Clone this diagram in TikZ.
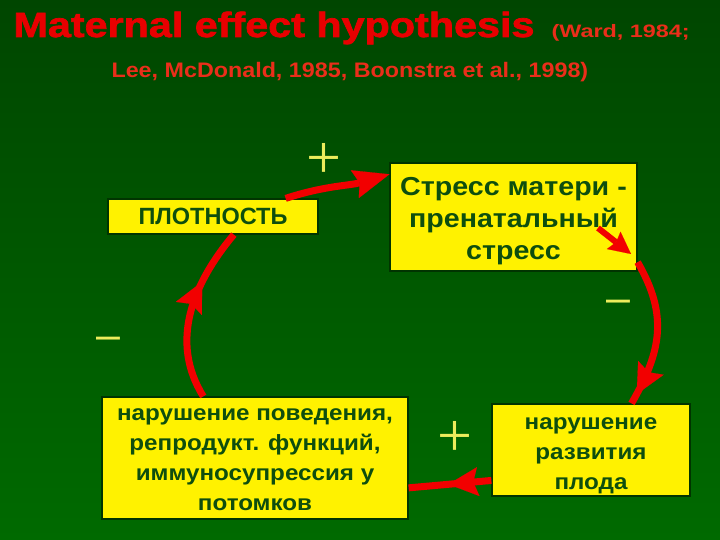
\documentclass[tikz,border=0pt]{standalone}
\usepackage{fontspec}
\setmainfont{Liberation Sans}
\newfontfamily\signfont{Liberation Serif}
\newfontfamily\widesans[FakeStretch=1.1]{Liberation Sans}
\newfontfamily\titlesans[FakeStretch=1.18,FakeBold=2]{Liberation Sans Bold}
\usetikzlibrary{arrows.meta,decorations.markings,calc}
\definecolor{bgtop}{RGB}{0,70,0}
\definecolor{bgbot}{RGB}{0,106,0}
\definecolor{titlered}{RGB}{232,0,0}
\definecolor{citered}{RGB}{234,46,26}
\definecolor{boxtext}{RGB}{14,78,14}
\definecolor{boxedge}{RGB}{0,52,0}
\definecolor{signyellow}{RGB}{236,236,92}
\definecolor{arrowred}{RGB}{242,0,0}
\tikzset{
  box/.style={fill=yellow, draw=boxedge, line width=1.2bp, inner sep=0pt, align=center, text=boxtext},
  sign/.style={text=signyellow, inner sep=0pt},
  link/.style={draw, color=arrowred, line width=7bp},
  headend/.style={-{Stealth[length=36bp,width=29bp,inset=5bp,line width=0.1bp]}},
  headmid/.style={postaction={decorate}, decoration={markings,
    mark=at position #1 with {\arrow{Stealth[length=30bp,width=29bp,inset=5bp,line width=0.1bp]}}}}
}

\begin{document}
\begin{tikzpicture}[x=1bp,y=1bp]
		%%%%% START %%%%%
		\useasboundingbox (0,0) rectangle (720,-540);
		\shade[top color=bgtop, bottom color=bgbot] (0,0) rectangle (720,-540);
		
		% title lines
		\node[anchor=base west, text=titlered, font=\titlesans\fontsize{35bp}{40bp}\selectfont] (title) at (10,-37) {Maternal effect hypothesis};
		\node[anchor=base west, text=citered, font=\bfseries\fontsize{18bp}{22bp}\selectfont] (citea) at (548,-38) {\scalebox{1.3}[1]{(Ward, 1984;}};
		\node[anchor=base west, text=citered, font=\bfseries\fontsize{21bp}{25bp}\selectfont] (citeb) at (108,-78) {\scalebox{1.11}[1]{Lee, McDonald, 1985, Boonstra et al., 1998)}};
		
		% boxes
		\node[box, minimum width=210bp, minimum height=35bp, font=\bfseries\fontsize{23.5bp}{28bp}\selectfont] (dens) at (213,-216.5) {ПЛОТНОСТЬ};
		\node[box, minimum width=247bp, minimum height=108bp, font=\widesans\bfseries\fontsize{26bp}{32bp}\selectfont] (stress) at (513.5,-217) {\rule{0pt}{26bp}Стресс матери -\\пренатальный\\стресс};
		\node[box, minimum width=198bp, minimum height=92bp, font=\widesans\bfseries\fontsize{22bp}{30bp}\selectfont] (fetus) at (591,-450) {\rule{0pt}{24bp}нарушение\\развития\\плода};
		\node[box, minimum width=306bp, minimum height=122bp, font=\widesans\bfseries\fontsize{22bp}{30bp}\selectfont] (behav) at (255,-458) {\rule{0pt}{15bp}нарушение поведения,\\репродукт. функций,\\иммуносупрессия у\\потомков};
		
		% signs
		\node[sign, font=\signfont\fontsize{62bp}{62bp}\selectfont] (plusa) at (324,-161) {+};
		\node[sign, font=\signfont\fontsize{62bp}{62bp}\selectfont] (plusb) at (455,-439) {+};
		\node[sign, font=\fontsize{43bp}{43bp}\selectfont] (minusa) at (108,-343) {–};
		\node[sign, font=\fontsize{43bp}{43bp}\selectfont] (minusb) at (618,-306) {–};
		
		% cycle of arrows
		\draw[link, headend] (dens.14) to[out=18, in=196] (stress.161);
		\draw[link, headmid=0.93] (stress.-20) to[out=-60, in=60, looseness=1.1] (fetus.49);
		\draw[link, headmid=0.52] (fetus.197) -- (behav.-11);
		\draw[link, headmid=0.68] (behav.130) to[out=122, in=230] (dens.-41);
		
		\coordinate (smalla) at (598,-228);
		\coordinate (smallb) at (631,-254);
		\draw[color=arrowred, line width=6bp, -{Stealth[length=22bp,width=22bp,inset=3bp,line width=0.1bp]}] (smalla) -- (smallb);
		%%%%% END %%%%%
\end{tikzpicture}
\end{document}
